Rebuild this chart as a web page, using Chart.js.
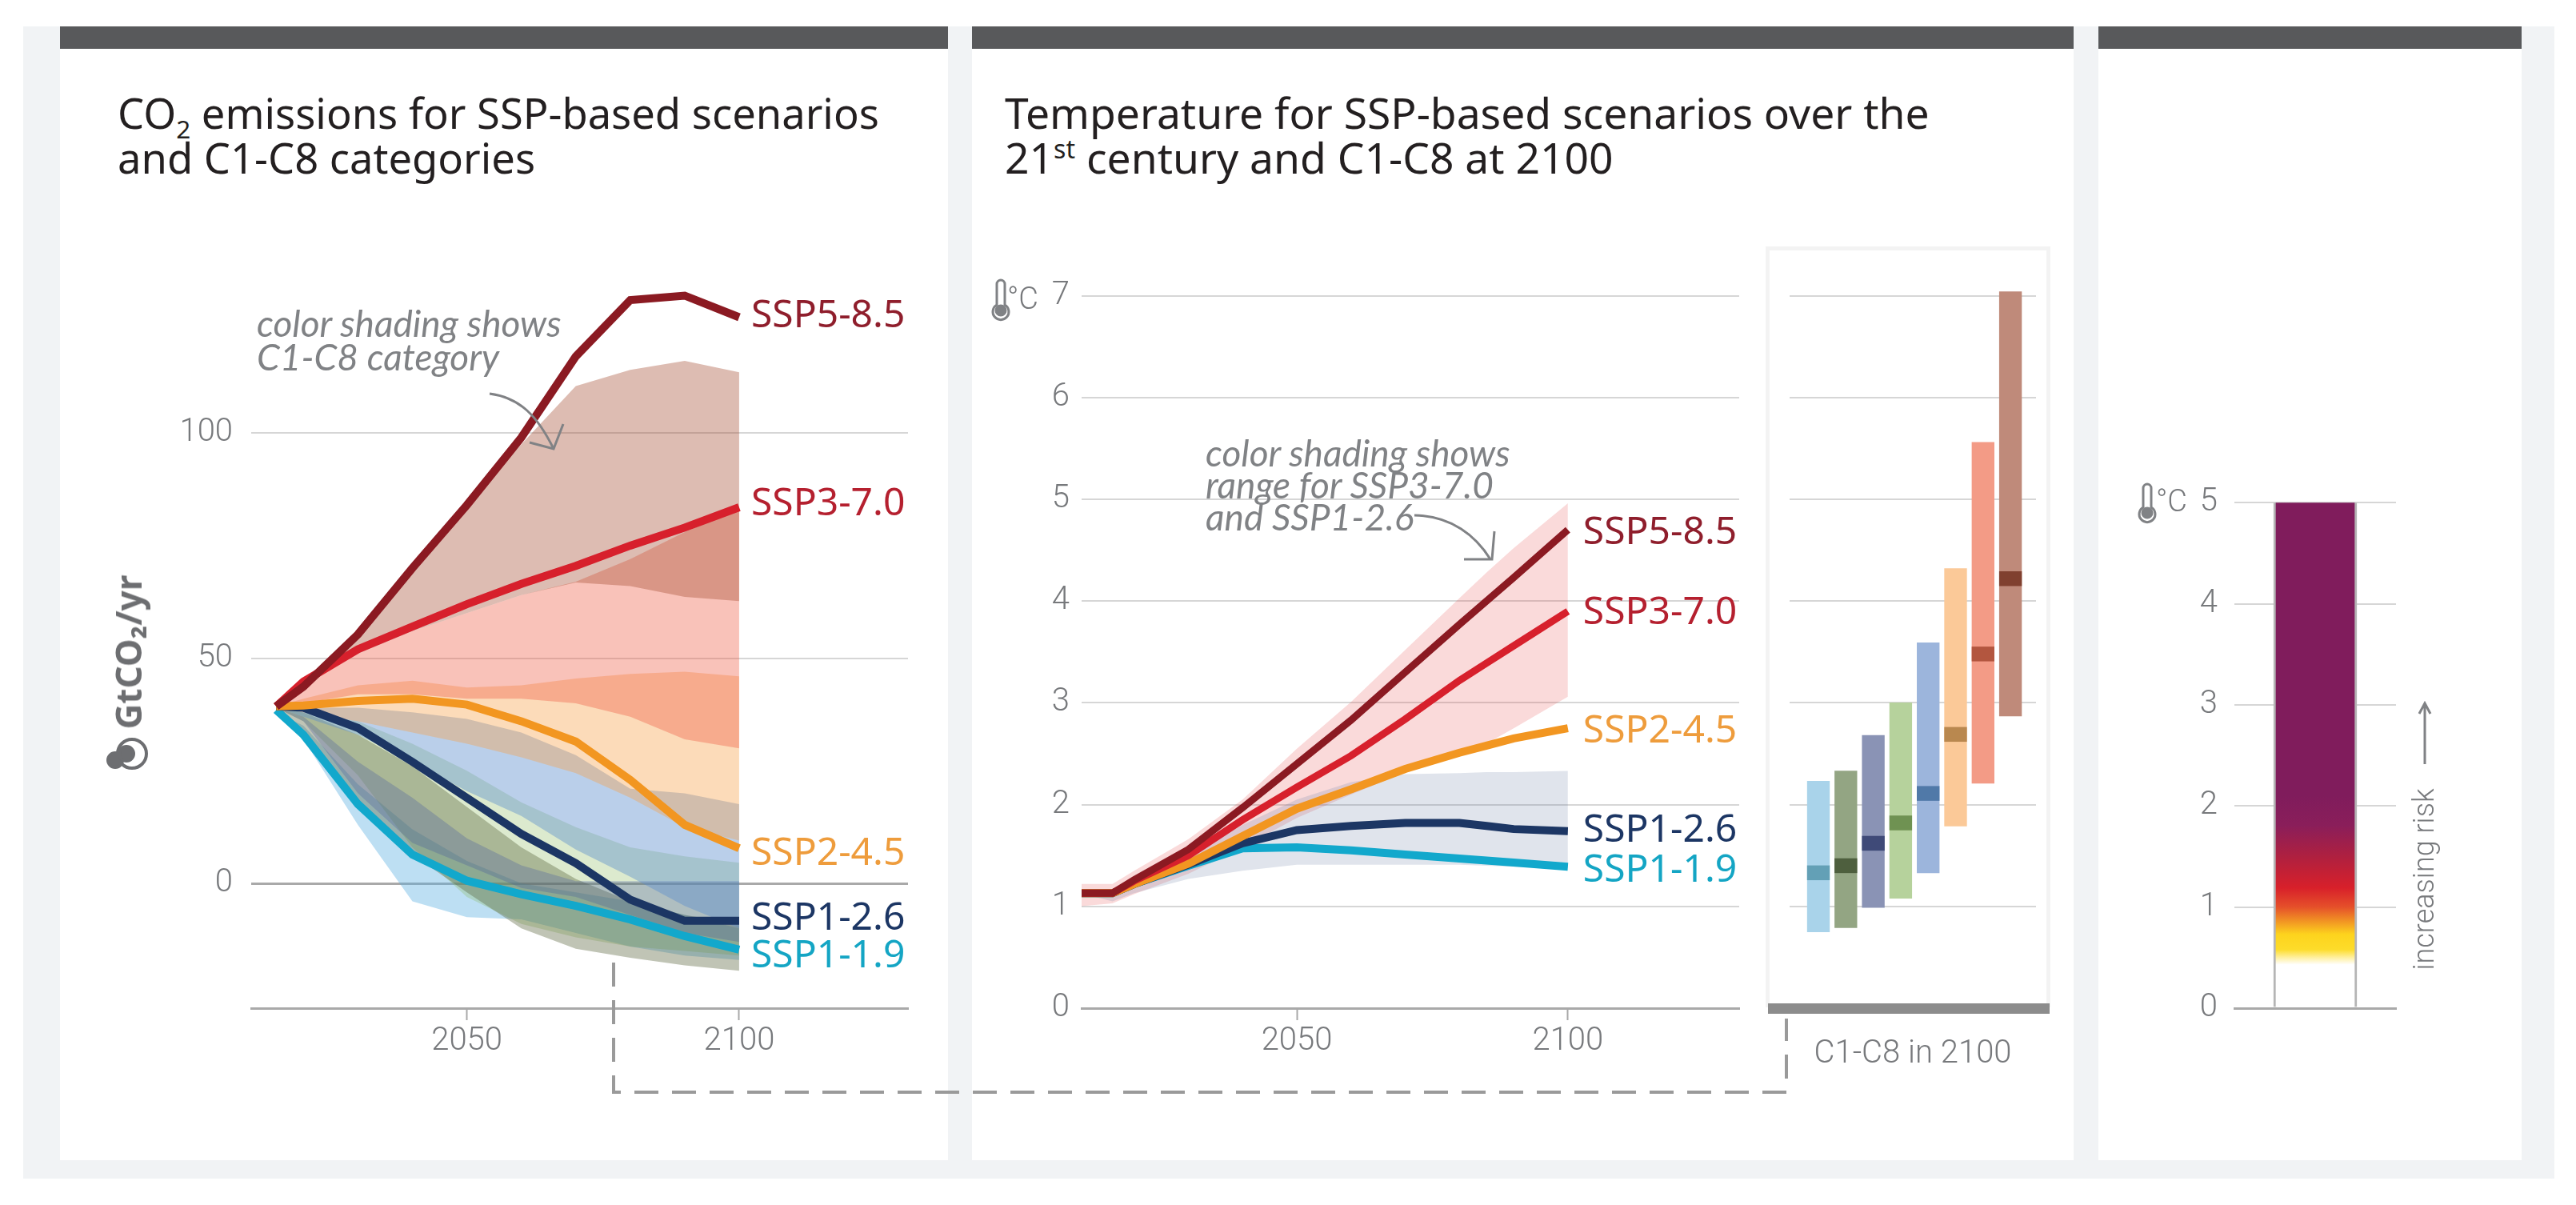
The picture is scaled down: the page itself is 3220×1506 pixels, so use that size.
<!DOCTYPE html>
<html>
<head>
<meta charset="utf-8">
<title>SSP scenarios</title>
<script src="https://cdn.jsdelivr.net/npm/chart.js@4"></script>
<style>
  html, body { margin: 0; padding: 0; background: #fff; }
  body { position: relative; width: 3220px; height: 1506px; overflow: hidden; font-family: "Noto Sans", sans-serif; }
  .abs { position: absolute; }
  .panel { position: absolute; background: #fff; top: 33px; height: 1417px; }
  .bar { position: absolute; left: 0; right: 0; top: 0; height: 28px; background: #58595b; }
  .title { position: absolute; top: 113px; font-size: 52.5px; line-height: 56px; color: #231f20; white-space: nowrap; }
  .title sub, .title sup { font-size: 60%; line-height: 0; }
  .note { position: absolute; font-family: Lato, sans-serif; font-style: italic; font-size: 46px; line-height: 42px; color: #808285; white-space: nowrap; }
  .narrow { position: absolute; font-family: Roboto, sans-serif; font-weight: 300; color: #77797c; white-space: nowrap; }
  canvas { position: absolute; }
</style>
</head>
<body>
<div class="abs" style="left:29px;top:33px;width:3164px;height:1440px;background:#f1f3f5"></div>
<div class="panel" style="left:75px;width:1110px"><div class="bar"></div></div>
<div class="panel" style="left:1215px;width:1377px"><div class="bar"></div></div>
<div class="panel" style="left:2623px;width:529px"><div class="bar"></div></div>

<div class="title" style="left:147px">CO<sub>2</sub> emissions for SSP-based scenarios<br>and C1-C8 categories</div>
<div class="title" style="left:1256px;font-size:53.4px">Temperature for SSP-based scenarios over the<br>21<sup>st</sup> century and C1-C8 at 2100</div>

<div class="abs" style="left:2207px;top:308px;width:346px;height:946px;border:5px solid #f3f3f3;border-bottom:none"></div>
<div class="abs" style="left:2210px;top:1254px;width:352px;height:13px;background:#8c8c8c"></div>

<canvas id="emissions"></canvas>
<canvas id="temperature"></canvas>
<canvas id="categories"></canvas>
<canvas id="risk"></canvas>

<div class="note" style="left:321px;top:383px">color shading shows<br>C1-C8 category</div>
<div class="note" style="left:1507px;top:546px;line-height:40px">color shading shows<br>range for SSP3-7.0<br>and SSP1-2.6</div>

<div class="abs" style="left:160px;top:815px;width:0;height:0">
  <div style="position:absolute;transform:translate(-50%,-50%) rotate(-90deg);font-weight:700;font-size:44px;color:#6d6e71;white-space:nowrap">GtCO₂/yr</div>
</div>
<div class="narrow" style="left:1259px;top:351px;font-size:38px">°C</div>
<div class="narrow" style="left:2695px;top:604px;font-size:38px">°C</div>
<div class="abs" style="left:3030px;top:1099px;width:0;height:0">
  <div class="narrow" style="transform:translate(-50%,-50%) rotate(-90deg);font-size:36px">increasing risk</div>
</div>

<svg class="abs" style="left:0;top:0" width="3220" height="1506" fill="none">
  <path d="M767 1203V1365H2233V1273" stroke="#9a9a9a" stroke-width="4" stroke-dasharray="30 17"/>
  <g stroke="#808285" stroke-width="3">
    <path d="M612 492C650 497 672 520 692 561"/>
    <path d="M704 530L692 561L662 553"/>
    <path d="M1768 644C1815 645 1845 670 1863 699"/>
    <path d="M1868 664L1865 699L1830 699"/>
    <path d="M3031 955V879M3024 892L3031 879L3038 892"/>
  </g>
  <g stroke="#6d6e71" stroke-width="4">
    <circle cx="165" cy="942" r="18"/>
    <circle cx="144" cy="950" r="9" fill="#6d6e71"/>
    <circle cx="158" cy="942" r="9" fill="#6d6e71"/>
  </g>
  <g stroke="#808285" stroke-width="3">
    <path d="M1246 381V355a5 5 0 0 1 10 0V381a10 10 0 1 1 -10 0Z"/>
    <circle cx="1251" cy="388" r="6" fill="#808285"/>
    <path d="M2679 634V610a5 5 0 0 1 10 0V634a10 10 0 1 1 -10 0Z"/>
    <circle cx="2684" cy="641" r="6" fill="#808285"/>
  </g>
</svg>

<script>
// emissions panel, GtCO2/yr
const eYears = [2015, 2020, 2030, 2040, 2050, 2060, 2070, 2080, 2090, 2100];
const e585 = [39.3, 43.7, 55.3, 70, 84, 99, 117, 129.5, 130.5, 125.7];
const e370 = [39.3, 44.8, 52, 57, 62, 66.5, 70.5, 75, 79, 83.5];
const e245 = [39.3, 39.5, 40.5, 41, 39.7, 36, 31.5, 23, 13, 7.8];
const e126 = [39.3, 39, 34.5, 27, 19, 11, 4.5, -3.6, -8.3, -8.3];
const e119 = [38.5, 33, 17.6, 6.4, 0.6, -2.4, -5, -8, -11.7, -14.7];

const c8Hi = [39.3, 43.7, 55.3, 70, 84, 97.5, 110.4, 114, 116, 113.5];
const c8Lo = [39.3, 44, 51, 56, 60, 64, 66.8, 66, 63.6, 62.7];
const c7Hi = [39.3, 44, 51, 56, 60, 64, 67, 72, 78, 83];
const c7Lo = [39.3, 40, 42, 42, 41, 41, 40, 37, 32, 30];
const c6Hi = [39.3, 41, 44, 45, 43.5, 44, 45.5, 46.5, 47, 46];
const c6Lo = [39, 38, 36, 33.5, 31, 28, 24.5, 19, 12.5, 9.5];
const c5Hi = [39, 39, 39, 38, 36.5, 33.5, 28.5, 21, 20, 17.6];
const c5Lo = [39, 37, 33, 27, 20.5, 15, 7.5, 1.5, -5, -10];
const c4Hi = [39, 38, 36, 31, 25, 18, 12.5, 8, 6, 4.6];
const c4Lo = [39, 36, 24, 8, -3, -9, -12, -14, -15, -16];
const c3Hi = [39, 37, 27, 19, 10, 4, 0.5, 0.5, 0.5, 0.5];
const c3Lo = [39, 36, 20, 9, 4, -1, -3, -7, -11, -13];
const c2Hi = [39, 38, 33, 26, 17, 8, 1, -4, -7, -9];
const c2Lo = [39, 34, 17.6, 6.4, -2, -10, -14.5, -16.5, -18.2, -19.4];
const c1Hi = [38, 35, 22, 12, 5, 0, -2, -4, -7, -10];
const c1Lo = [38, 32, 13, -4, -7.5, -8, -11, -14, -16, -17];

const eTicks = [0, 50, 100];
const eLabelAt = [125.9, 84.1, 6.6, -7.9, -16.2];

// temperature panel, deg C
const tYears = [2010, 2016, 2020, 2030, 2040, 2050, 2060, 2070, 2080, 2085, 2090, 2100];
const t585 = [1.13, 1.13, 1.26, 1.56, 1.97, 2.4, 2.83, 3.3, 3.77, 4, 4.23, 4.7];
const t370 = [1.13, 1.13, 1.25, 1.5, 1.85, 2.17, 2.48, 2.84, 3.22, 3.39, 3.56, 3.9];
const t245 = [1.13, 1.13, 1.22, 1.42, 1.69, 1.96, 2.15, 2.35, 2.51, 2.58, 2.65, 2.75];
const t126 = [1.13, 1.13, 1.22, 1.41, 1.62, 1.75, 1.79, 1.82, 1.82, 1.79, 1.76, 1.74];
const t119 = [1.13, 1.13, 1.22, 1.4, 1.57, 1.58, 1.55, 1.51, 1.47, 1.45, 1.43, 1.39];
const t370Hi = [1.22, 1.22, 1.35, 1.66, 2.05, 2.55, 3.01, 3.52, 4.03, 4.28, 4.52, 4.96];
const t370Lo = [1, 1.03, 1.12, 1.32, 1.58, 1.87, 2.1, 2.32, 2.5, 2.6, 2.75, 3.06];
const t126Hi = [1.13, 1.13, 1.25, 1.5, 1.8, 2.05, 2.22, 2.3, 2.31, 2.32, 2.32, 2.33];
const t126Lo = [1.13, 1.05, 1.13, 1.27, 1.35, 1.41, 1.41, 1.41, 1.41, 1.4, 1.39, 1.38];

const tTicks = [0, 1, 2, 3, 4, 5, 6, 7];
const tLabelAt = [4.67, 3.88, 2.72, 1.74, 1.35];
const xTicks = [2050, 2100];

// C1-C8 in 2100
const catNames = ['C1', 'C2', 'C3', 'C4', 'C5', 'C6', 'C7', 'C8'];
const catLow = [0.75, 0.79, 0.99, 1.08, 1.33, 1.79, 2.21, 2.87];
const catHigh = [2.23, 2.33, 2.68, 3, 3.59, 4.32, 5.56, 7.04];
const catMedian = [1.33, 1.4, 1.62, 1.82, 2.11, 2.69, 3.48, 4.22];
const catTicks = [1, 2, 3, 4, 5, 6, 7];

// risk bar
const riskTicks = [0, 1, 2, 3, 4, 5];
const riskRange = [0, 5];
const riskStopAt = [0.43, 0.5, 0.58, 0.73, 1, 1.19, 1.49, 1.81, 2.1];
const riskStopColor = ['#ffffff', '#fff0a0', '#fddc2a', '#fdd31d', '#e5502a', '#d8202a', '#b0203f', '#8a1e5a', '#801c5c'];

const scenarios = ['SSP5-8.5', 'SSP3-7.0', 'SSP2-4.5', 'SSP1-2.6', 'SSP1-1.9'];
const lineColors = ['#8b1a22', '#d7202c', '#f29621', '#1c3664', '#12a8cc'];
const labelColors = ['#8f1e2c', '#b5202f', '#ee9c3c', '#1c3664', '#14a5c4'];
const bandColors = ['rgba(90,175,225,.4)', 'rgba(90,100,60,.38)', 'rgba(70,90,160,.3)', 'rgba(130,180,80,.28)',
                    'rgba(90,140,205,.42)', 'rgba(247,160,70,.38)', 'rgba(238,95,70,.38)', 'rgba(166,78,52,.38)'];
const barColors = ['#a9d3ea', '#93a583', '#8a93b5', '#b6d29c', '#9cb5dc', '#fbc998', '#f39b86', '#bf8a7a'];
const medianColors = ['#63a0b6', '#4e5f3e', '#3f4a78', '#6f9252', '#5079a8', '#b9884f', '#b3563f', '#80402f'];

const GREY = '#77797c';
const tickFont = { family: 'Roboto', size: 40, weight: 300 };
const PAD_TOP = 40, PAD_RIGHT = 40;

Chart.defaults.animation = false;
Chart.defaults.font.family = 'Roboto';
Chart.defaults.plugins.legend.display = false;
Chart.defaults.plugins.tooltip.enabled = false;

function pts(xs, ys) {
    return ys.map((y, i) => ({ x: xs[i], y: y }));
}

function band(xs, hi, lo, color, order) {
    return [
        { data: pts(xs, hi), backgroundColor: color, fill: '+1', borderWidth: 0, pointRadius: 0, order: order },
        { data: pts(xs, lo), borderWidth: 0, pointRadius: 0, fill: false, order: order }
    ];
}

function seriesLine(xs, ys, color, order, width) {
    return { data: pts(xs, ys), borderColor: color, borderWidth: width, pointRadius: 0, fill: false, tension: 0, order: order };
}

function yScale(min, max, ticks, labelWidth, padding) {
    return {
        min: min, max: max, bounds: 'data',
        afterBuildTicks: (s) => { s.ticks = ticks.map(v => ({ value: v })); },
        afterFit: (s) => { s.width = labelWidth; },
        border: { display: false },
        grid: {
            drawTicks: false,
            color: (c) => c.tick && c.tick.value === 0 ? '#a9a9a9' : '#d6d6d6',
            lineWidth: (c) => c.tick && c.tick.value === 0 ? 3 : 2
        },
        ticks: { color: GREY, font: tickFont, padding: padding, autoSkip: false }
    };
}

function yearScale(min, max) {
    return {
        type: 'linear', min: min, max: max, bounds: 'data',
        afterBuildTicks: (s) => { s.ticks = xTicks.map(v => ({ value: v })); },
        afterFit: (s) => { s.height = 90; },
        border: { display: true, color: '#a9a9a9', width: 3 },
        grid: { drawOnChartArea: false, tickLength: 15, tickWidth: 2, tickColor: '#a9a9a9' },
        ticks: { color: GREY, font: tickFont, padding: 3, maxRotation: 0, autoSkip: false, callback: (v) => String(v) }
    };
}

function endLabels(at, dx) {
    return {
        id: 'endLabels',
        afterDatasetsDraw(chart) {
            const ctx = chart.ctx;
            const x = chart.scales.x.getPixelForValue(2100) + dx;
            ctx.save();
            ctx.font = '48px "Noto Sans", sans-serif';
            ctx.textBaseline = 'middle';
            scenarios.forEach((name, i) => {
                ctx.fillStyle = labelColors[i];
                ctx.fillText(name, x, chart.scales.y.getPixelForValue(at[i]));
            });
            ctx.restore();
        }
    };
}

// sizes the canvas so the plot area lands on the wanted box
function place(id, box, leftW, bottomH) {
    const el = document.getElementById(id);
    el.width = leftW + (box.r - box.l) + PAD_RIGHT;
    el.height = PAD_TOP + Math.round(box.b - box.t) + bottomH;
    el.style.left = (box.l - leftW) + 'px';
    el.style.top = (box.t - PAD_TOP) + 'px';
    return el;
}

const chartOpts = (scales) => ({
    responsive: false, devicePixelRatio: 1, events: [],
    layout: { padding: { top: PAD_TOP, right: PAD_RIGHT, left: 0, bottom: 0 } },
    scales: scales
});

new Chart(place('emissions', { l: 314, r: 1135, t: 309, b: 1260 }, 200, 90), {
    type: 'line',
    data: {
        datasets: [
            seriesLine(eYears, e585, lineColors[0], 1, 10),
            seriesLine(eYears, e370, lineColors[1], 2, 10),
            seriesLine(eYears, e245, lineColors[2], 3, 10),
            seriesLine(eYears, e126, lineColors[3], 4, 10),
            seriesLine(eYears, e119, lineColors[4], 5, 10),
            ...band(eYears, c1Hi, c1Lo, bandColors[0], 17),
            ...band(eYears, c4Hi, c4Lo, bandColors[3], 16),
            ...band(eYears, c2Hi, c2Lo, bandColors[1], 15),
            ...band(eYears, c3Hi, c3Lo, bandColors[2], 14),
            ...band(eYears, c5Hi, c5Lo, bandColors[4], 13),
            ...band(eYears, c6Hi, c6Lo, bandColors[5], 12),
            ...band(eYears, c7Hi, c7Lo, bandColors[6], 11),
            ...band(eYears, c8Hi, c8Lo, bandColors[7], 10)
        ]
    },
    options: chartOpts({ x: yearScale(2010.4, 2131), y: yScale(-27.7, 140, eTicks, 200, 23) }),
    plugins: [endLabels(eLabelAt, 15)]
});

new Chart(place('temperature', { l: 1352, r: 2174, t: 306, b: 1260 }, 120, 90), {
    type: 'line',
    data: {
        datasets: [
            seriesLine(tYears, t585, lineColors[0], 1, 9),
            seriesLine(tYears, t370, lineColors[1], 2, 9),
            seriesLine(tYears, t245, lineColors[2], 3, 10),
            seriesLine(tYears, t126, lineColors[3], 4, 10),
            seriesLine(tYears, t119, lineColors[4], 5, 10),
            ...band(tYears, t126Hi, t126Lo, 'rgba(100,120,160,.2)', 10),
            ...band(tYears, t370Hi, t370Lo, 'rgba(232,70,70,.2)', 11)
        ]
    },
    options: chartOpts({ x: yearScale(2010.3, 2131.6), y: yScale(0, 7.5, tTicks, 120, 15) }),
    plugins: [endLabels(tLabelAt, 19)]
});

const catX = catNames.map((n, i) => i + 1);

new Chart(place('categories', { l: 2237, r: 2545, t: 306, b: 1260 }, 10, 82), {
    type: 'bar',
    data: {
        datasets: [
            {
                data: catMedian.map((m, i) => ({ x: catX[i], y: [m - 0.07, m + 0.07] })),
                backgroundColor: medianColors, barThickness: 27.7, grouped: false, order: 1
            },
            {
                data: catLow.map((lo, i) => ({ x: catX[i], y: [lo, catHigh[i]] })),
                backgroundColor: barColors, barThickness: 27.7, grouped: false, order: 2
            }
        ]
    },
    options: chartOpts({
        x: {
            type: 'linear', min: -0.05, max: 8.93, offset: false, bounds: 'data',
            afterFit: (s) => { s.height = 82; },
            border: { display: false }, grid: { display: false }, ticks: { display: false },
            title: { display: true, text: 'C1-C8 in 2100', color: GREY, font: tickFont, padding: { top: 0, bottom: 0 } }
        },
        y: Object.assign(yScale(0, 7.5, catTicks, 10, 0), { ticks: { display: false } })
    })
});

function riskFill(c) {
    if (!c.chart.chartArea) return riskStopColor[riskStopColor.length - 1];
    const scale = c.chart.scales.y;
    const g = c.chart.ctx.createLinearGradient(0, scale.getPixelForValue(riskRange[0]), 0, scale.getPixelForValue(riskRange[1]));
    g.addColorStop(0, '#ffffff');
    riskStopAt.forEach((v, i) => {
        g.addColorStop(v / riskRange[1], riskStopColor[i]);
    });
    g.addColorStop(1, riskStopColor[riskStopColor.length - 1]);
    return g;
}

new Chart(place('risk', { l: 2793, r: 2995, t: 560, b: 1260 }, 120, 60), {
    type: 'bar',
    data: {
        labels: [''],
        datasets: [{
            data: [riskRange],
            backgroundColor: riskFill,
            borderColor: '#b5b5b5',
            borderWidth: { left: 3, right: 3 },
            borderSkipped: false,
            barThickness: 104
        }]
    },
    options: chartOpts({
        x: {
            afterFit: (s) => { s.height = 60; },
            border: { display: true, color: '#a9a9a9', width: 3 },
            grid: { display: false }, ticks: { display: false }
        },
        y: yScale(0, 5.5, riskTicks, 120, 21)
    })
});
</script>
</body>
</html>
